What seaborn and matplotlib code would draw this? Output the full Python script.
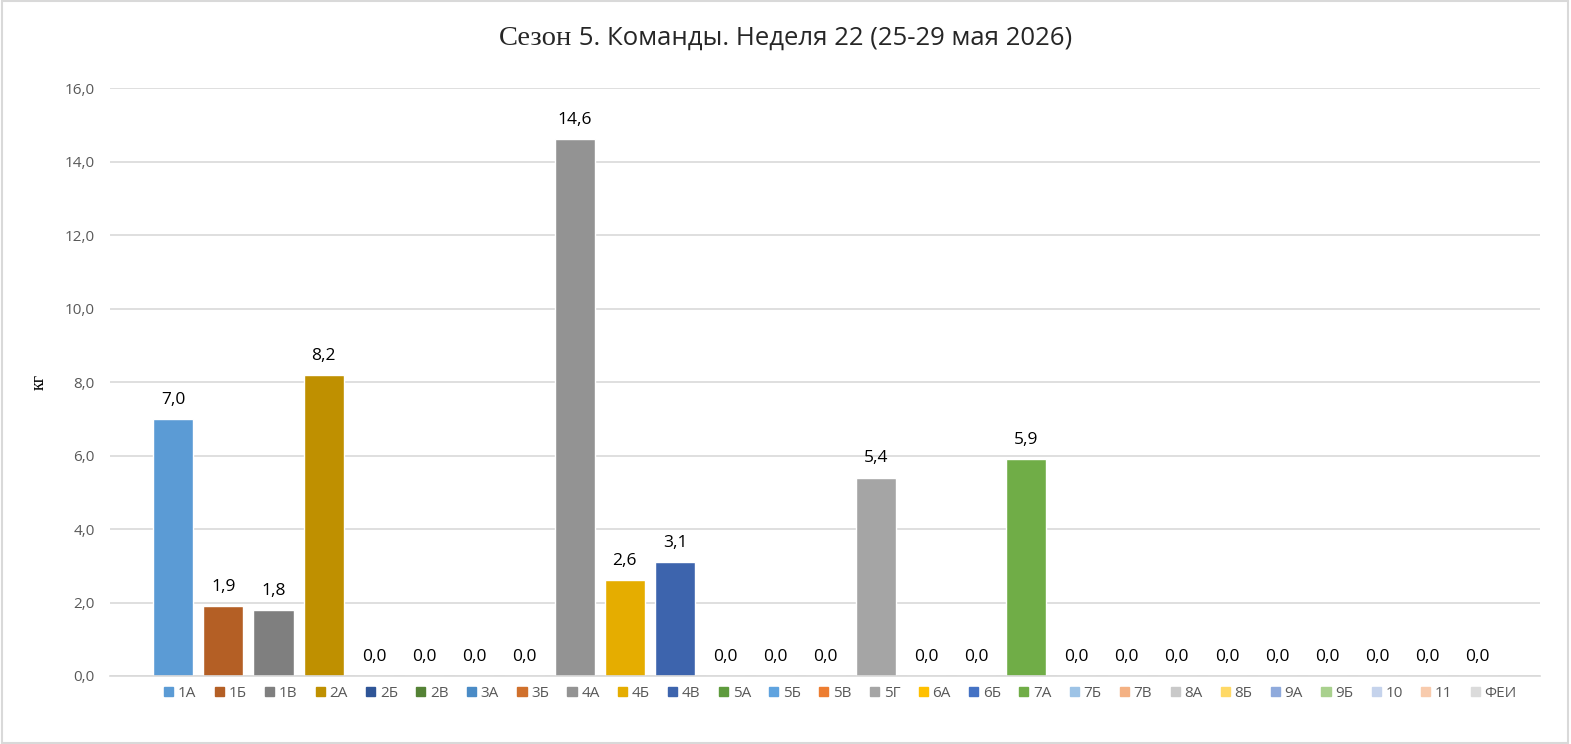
import matplotlib
matplotlib.use("Agg")
import matplotlib.pyplot as plt
import seaborn as sns
import pandas as pd
from matplotlib.ticker import FuncFormatter, MultipleLocator
from matplotlib.patches import Rectangle
from matplotlib import font_manager as fm

teams = ["1А", "1Б", "1В", "2А", "2Б", "2В", "3А", "3Б", "4А", "4Б", "4В",
         "5А", "5Б", "5В", "5Г", "6А", "6Б", "7А", "7Б", "7В", "8А", "8Б",
         "9А", "9Б", "10", "11", "ФЕИ"]
values = [7.0, 1.9, 1.8, 8.2, 0.0, 0.0, 0.0, 0.0, 14.6, 2.6, 3.1,
          0.0, 0.0, 0.0, 5.4, 0.0, 0.0, 5.9, 0.0, 0.0, 0.0, 0.0,
          0.0, 0.0, 0.0, 0.0, 0.0]
colors = ["#5B9BD5", "#B45F25", "#7F7F7F", "#BF9000", "#2F5597", "#548235",
          "#4A8BC6", "#D0702C", "#939393", "#E5AD00", "#3D64AD", "#5E9B3D",
          "#5FA3DF", "#ED7D31", "#A5A5A5", "#FFC000", "#4472C4", "#70AD47",
          "#9DC3E6", "#F4B183", "#C9C9C9", "#FFD966", "#8FAADC", "#A9D18E",
          "#C5D3EC", "#F8CBAD", "#DBDBDB"]
title_serif = "Сезон"
title_sans = " 5. Команды. Неделя 22 (25-29 мая 2026)"
y_label = "кг"

df = pd.DataFrame({"team": teams, "value": values})

sns.set_theme(style="white")
plt.rcParams["font.family"] = ["Open Sans", "DejaVu Sans"]

serif_path = fm.findfont(fm.FontProperties(family="Liberation Serif"))
serif_fp = fm.FontProperties(fname=serif_path)

fig = plt.figure(figsize=(15.71, 7.44), dpi=100)
ax = fig.add_axes([0.070, 0.0914, 0.910, 0.7903])

sns.barplot(data=df, x="team", y="value", hue="team", palette=colors,
            order=teams, hue_order=teams, dodge=False, width=0.8,
            legend=False, ax=ax, saturation=1)

ax.set_ylim(0, 16)
ax.set_xlim(-1.26, len(teams) - 1 + 1.23)
ax.yaxis.set_major_locator(MultipleLocator(2))
ax.yaxis.set_major_formatter(FuncFormatter(lambda v, p: f"{v:.1f}".replace(".", ",")))
ax.grid(axis="y", color="#D9D9D9", linewidth=1.2)
ax.set_axisbelow(True)
for s in ["top", "right", "left"]:
    ax.spines[s].set_visible(False)
ax.spines["bottom"].set_color("#D9D9D9")
ax.spines["bottom"].set_linewidth(1.2)
ax.set_xticks([])
ax.set_xlabel("")
ax.tick_params(axis="y", length=0, labelsize=11, labelcolor="#595959", pad=11)
ax.set_ylabel(y_label, fontproperties=serif_fp, fontsize=13, color="#000000", labelpad=12)

for i, v in enumerate(values):
    ax.annotate(f"{v:.1f}".replace(".", ","),
                (i, v), xytext=(0, 8), textcoords="offset points",
                ha="center", va="bottom", fontsize=12.5, color="#000000")

# legend
handles = [Rectangle((0, 0), 1, 1, color=c) for c in colors]
leg = fig.legend(handles, teams, loc="center", bbox_to_anchor=(0.535, 0.068),
                 ncol=len(teams), frameon=False, fontsize=11,
                 handlelength=0.6, handleheight=0.6, handletextpad=0.3,
                 columnspacing=1.2, labelcolor="#595959")

# title (mixed fonts)
fig.canvas.draw()
r = fig.canvas.get_renderer()
t1 = fig.text(0, 0.948, title_serif, fontproperties=serif_fp, va="center", ha="left")
t1.set_fontsize(20.5)
t2 = fig.text(0, 0.948, title_sans, family=["Open Sans", "DejaVu Sans"], fontsize=18.5, va="center", ha="left")
w1 = t1.get_window_extent(r).width
w2 = t2.get_window_extent(r).width
W = fig.bbox.width
x0 = (W - (w1 + w2)) / 2
t1.set_x(x0 / W)
t2.set_x((x0 + w1) / W)

fig.patches.append(Rectangle((0.001, 0.001), 0.997, 0.997, transform=fig.transFigure,
                             fill=False, edgecolor="#D9D9D9", linewidth=1.5))

fig.savefig("out.png", dpi=100)
